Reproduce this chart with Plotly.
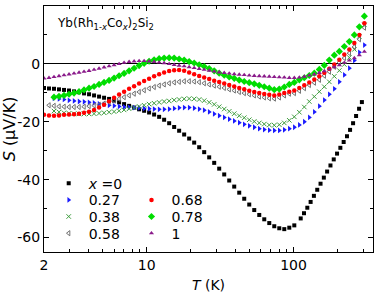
import plotly.graph_objects as go

# Temperature grid (K) for the dense series
T_grid = [2.000, 2.163, 2.340, 2.531, 2.738, 2.961, 3.203, 3.464, 3.747, 4.053,
          4.384, 4.742, 5.129, 5.548, 6.001, 6.491, 7.021, 7.594, 8.214, 8.884,
          9.610, 10.39, 11.24, 12.16, 13.15, 14.23, 15.39, 16.64, 18.00, 19.47,
          21.06, 22.78, 24.64, 26.65, 28.83, 31.18, 33.73, 36.48, 39.46, 42.68,
          46.16, 49.93, 54.01, 58.42, 63.19, 68.35, 73.93, 79.96, 86.49, 93.55,
          101.2, 109.5, 118.4, 128.0, 138.5, 149.8, 162.0, 175.2, 189.5, 205.0,
          221.7, 239.8, 259.4, 280.6, 303.5]

# x = 0 : dense part (T_grid up to ~100 K) and sparse high-T part
S_x0_low = [-8.3, -8.5, -8.6, -8.8, -9.0, -9.2, -9.5, -9.8, -10.2, -10.5,
            -10.9, -11.3, -11.7, -12.1, -12.7, -13.3, -13.9, -14.5, -15.1, -15.7,
            -16.2, -16.8, -17.5, -18.3, -19.3, -20.5, -21.8, -23.1, -24.4, -25.8,
            -27.2, -28.8, -30.5, -32.3, -34.2, -36.2, -38.2, -40.3, -42.4, -44.5,
            -46.6, -48.6, -50.5, -52.2, -53.7, -55.0, -56.1, -56.8, -57.1, -56.6,
            -55.8]
T_x0_high = [111.9, 117.8, 124.1, 130.7, 137.6, 145.0, 152.7, 160.8, 169.3, 178.4,
             187.8, 197.8, 208.3, 219.4, 231.1, 242.6, 254.3, 266.6, 279.4, 292.0]
S_x0_high = [-53.4, -51.6, -49.7, -47.7, -45.6, -43.5, -41.4, -39.3, -37.2, -35.1,
             -33.0, -31.0, -29.0, -27.0, -25.0, -22.8, -20.5, -18.0, -15.5, -13.2]

S_x027 = [None, None, -11.9, -12.1, -12.3, -12.6, -12.8, -13.0, -13.1, -13.3,
          -13.5, -13.8, -14.0, -14.3, -14.5, -14.7, -14.9, -15.0, -15.1, -15.2,
          -15.4, -15.5, -15.6, -15.7, -15.7, -15.6, -15.4, -15.2, -15.1, -15.1,
          -15.3, -15.6, -16.0, -16.6, -17.3, -17.9, -18.5, -19.1, -19.7, -20.3,
          -20.9, -21.4, -21.9, -22.4, -22.7, -22.9, -23.0, -23.0, -22.8, -22.4,
          -21.9, -21.1, -20.0, -18.5, -16.6, -14.6, -12.5, -10.5, -8.6, -6.2,
          -3.8, -1.5, 1.2, 4.0, 6.5]

S_x038 = [None, None, -16.3, -16.6, -16.9, -17.1, -17.2, -17.3, -17.3, -17.3,
          -17.2, -17.1, -16.9, -16.7, -16.5, -16.2, -15.9, -15.5, -15.1, -14.7,
          -14.3, -13.9, -13.6, -13.3, -13.0, -12.8, -12.5, -12.3, -12.1, -12.0,
          -12.1, -12.3, -12.7, -13.3, -14.0, -14.8, -15.6, -16.4, -17.2, -17.9,
          -18.6, -19.3, -19.9, -20.4, -20.8, -21.1, -21.2, -21.0, -20.4, -19.5,
          -18.3, -16.7, -14.9, -13.0, -11.3, -9.6, -7.9, -6.2, -4.3, -2.3,
          -0.2, 2.2, 5.0, 9.5, 13.5]

S_x058 = [None, -14.3, -14.5, -14.7, -14.8, -14.9, -14.9, -14.9, -14.8, -14.6,
          -14.4, -14.1, -13.7, -13.2, -12.7, -12.1, -11.5, -10.9, -10.3, -9.7,
          -9.1, -8.5, -8.0, -7.5, -7.1, -6.7, -6.4, -6.2, -6.0, -6.0,
          -6.1, -6.3, -6.7, -7.1, -7.5, -7.9, -8.3, -8.8, -9.2, -9.7,
          -10.1, -10.5, -10.9, -11.3, -11.6, -11.9, -12.0, -11.6, -10.9, -10.3,
          -10.1, -9.3, -8.4, -7.3, -6.5, -5.5, -4.1, -2.7, -1.0, 0.5,
          2.0, 3.7, 5.9, 8.5, 12.5]

S_x068 = [-17.6, -17.8, -17.9, -17.8, -17.6, -17.5, -17.4, -17.2, -16.9, -16.5,
          -15.9, -15.1, -14.1, -12.9, -11.7, -10.6, -9.6, -8.6, -7.7, -6.8,
          -5.9, -5.1, -4.3, -3.6, -3.0, -2.5, -2.2, -2.1, -2.4, -3.0,
          -3.6, -4.2, -4.7, -5.2, -5.8, -6.3, -6.8, -7.3, -7.8, -8.3,
          -8.8, -9.3, -9.7, -10.1, -10.4, -10.7, -10.9, -10.6, -10.1, -9.6,
          -9.2, -8.3, -7.4, -6.4, -5.4, -4.3, -3.1, -1.7, -0.2, 1.4,
          3.2, 5.0, 7.2, 10.0, 14.0]

S_x078 = [None, None, -11.5, -11.2, -10.9, -10.5, -10.1, -9.6, -9.0, -8.4,
          -7.8, -7.1, -6.4, -5.7, -4.9, -4.1, -3.3, -2.4, -1.5, -0.6,
          0.2, 0.9, 1.4, 1.8, 2.0, 2.1, 2.0, 1.7, 1.3, 0.8,
          0.3, -0.3, -0.9, -1.6, -2.4, -3.2, -3.9, -4.5, -5.0, -5.6,
          -6.1, -6.5, -6.9, -7.4, -7.9, -8.4, -8.9, -8.7, -8.0, -7.1,
          -6.4, -5.5, -4.8, -4.0, -3.2, -1.9, -0.5, 1.3, 3.0, 4.3,
          6.0, 7.7, 10.0, 12.8, 16.5]

S_x1 = [-5.0, -4.8, -4.5, -4.2, -3.9, -3.6, -3.3, -3.0, -2.7, -2.4,
        -2.0, -1.6, -1.2, -0.8, -0.4, 0.0, 0.4, 0.7, 0.9, 1.0,
        1.0, 0.9, 0.7, 0.5, 0.3, 0.0, -0.3, -0.6, -0.8, -1.1,
        -1.4, -1.7, -2.0, -2.3, -2.6, -2.9, -3.1, -3.3, -3.5, -3.7,
        -3.8, -4.0, -4.1, -4.2, -4.3, -4.4, -4.5, -4.6, -4.7, -4.8,
        -4.8, -4.7, -4.4, -4.0, -3.6, -3.1, -2.5, -1.8, -1.1, -0.4,
        0.4, 1.2, 2.0, 3.0, 4.2]

x_tickvals = [2, 10, 100]
x_ticktext = ["2", "10", "100"]
x_minor = [3, 4, 5, 6, 7, 8, 9, 20, 30, 40, 50, 60, 70, 80, 90, 200, 300]
y_tickvals = [20, 0, -20, -40, -60]
y_ticktext = ["20", "0", "-20", "-40", "-60"]

FONT = "DejaVu Sans"
fig = go.Figure()

fig.add_trace(go.Scatter(x=T_grid[:len(S_x0_low)] + T_x0_high, y=S_x0_low + S_x0_high,
                         mode="markers", name="<i>x</i> =0", legend="legend", showlegend=True,
                         marker=dict(symbol="square", size=4, color="black", line=dict(width=0))))
fig.add_trace(go.Scatter(x=T_grid, y=S_x027, mode="markers", name="0.27", legend="legend2", showlegend=True,
                         marker=dict(symbol="triangle-right", size=5, color="#1a1aff", line=dict(width=0))))
fig.add_trace(go.Scatter(x=T_grid, y=S_x038, mode="markers", name="0.38", legend="legend3", showlegend=True,
                         marker=dict(symbol="x-thin-open", size=4.5, color="#3c9c3c", line=dict(width=1, color="#3c9c3c"))))
fig.add_trace(go.Scatter(x=T_grid, y=S_x058, mode="markers", name="0.58", legend="legend4", showlegend=True,
                         marker=dict(symbol="triangle-left-open", size=4.5, color="#707070", line=dict(width=1, color="#707070"))))
fig.add_trace(go.Scatter(x=T_grid, y=S_x068, mode="markers", name="0.68", legend="legend5", showlegend=True,
                         marker=dict(symbol="circle", size=4.5, color="#ff0000", line=dict(width=0))))
fig.add_trace(go.Scatter(x=T_grid, y=S_x078, mode="markers", name="0.78", legend="legend6", showlegend=True,
                         marker=dict(symbol="diamond", size=5.5, color="#00dd00", line=dict(width=0))))
fig.add_trace(go.Scatter(x=T_grid, y=S_x1, mode="markers", name="1", legend="legend7", showlegend=True,
                         marker=dict(symbol="triangle-up", size=4.5, color="#8a1a8a", line=dict(width=0))))

def leg(x, y):
    return dict(x=x, y=y, xanchor="left", yanchor="top", bgcolor="rgba(0,0,0,0)",
                font=dict(size=14), itemwidth=30, visible=True)

col1_x, col2_x = 0.0143, 0.2659
row_y = [0.3430, 0.2752, 0.2077, 0.1398]

fig.update_layout(
    width=374, height=293,
    showlegend=True,
    margin=dict(l=44, r=1, t=6, b=41, autoexpand=False),
    paper_bgcolor="white", plot_bgcolor="white",
    font=dict(family=FONT, size=14, color="black"),
    xaxis=dict(type="log", range=[0.30103, 2.541], automargin=False,
               tickvals=x_tickvals, ticktext=x_ticktext,
               ticks="inside", ticklen=5, tickwidth=1, tickcolor="black",
               minor=dict(tickvals=x_minor, ticks="inside", ticklen=3, tickcolor="black"),
               showline=True, linecolor="black", linewidth=1, mirror="ticks",
               showgrid=False, zeroline=False,
               title=dict(text="<i>T</i> (K)", font=dict(size=14))),
    yaxis=dict(range=[-65, 20], automargin=False,
               tickvals=y_tickvals, ticktext=y_ticktext,
               ticks="inside", ticklen=5, tickwidth=1, tickcolor="black",
               minor=dict(dtick=10, ticks="inside", ticklen=3, tickcolor="black"),
               showline=True, linecolor="black", linewidth=1, mirror="ticks",
               showgrid=False, zeroline=True, zerolinecolor="black", zerolinewidth=1,
               title=dict(text="<i>S</i> (μV/K)", font=dict(size=16))),
    legend=leg(col1_x, row_y[0]),
    legend2=leg(col1_x, row_y[1]),
    legend3=leg(col1_x, row_y[2]),
    legend4=leg(col1_x, row_y[3]),
    legend5=leg(col2_x, row_y[1]),
    legend6=leg(col2_x, row_y[2]),
    legend7=leg(col2_x, row_y[3]),
    annotations=[dict(text="Yb(Rh<sub>1-<i>x</i></sub>Co<sub><i>x</i></sub>)<sub>2</sub>Si<sub>2</sub>",
                      xref="paper", yref="paper", x=0.033, y=0.925,
                      xanchor="left", yanchor="middle", showarrow=False,
                      font=dict(size=12))],
)

fig.write_html("out.html", post_script="document.body.style.margin='0';",
               config={"displayModeBar": False})
